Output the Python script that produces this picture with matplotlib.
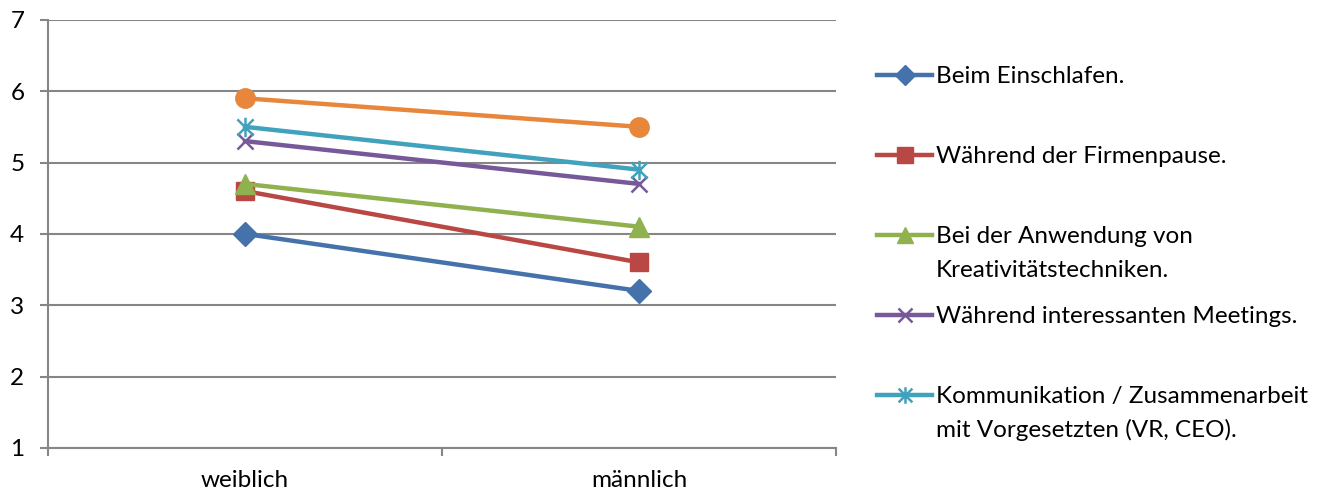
import matplotlib.pyplot as plt
from matplotlib.lines import Line2D
from matplotlib.path import Path

plt.rcParams['font.family'] = ['Lato', 'DejaVu Sans']

categories = ['weiblich', 'männlich']
einschlafen = [4.0, 3.2]
firmenpause = [4.6, 3.6]
kreativ = [4.7, 4.1]
meetings = [5.3, 4.7]
vorgesetzte = [5.5, 4.9]
sonstige = [5.9, 5.5]

labels = ['Beim Einschlafen.',
          'Während der Firmenpause.',
          'Bei der Anwendung von\nKreativitätstechniken.',
          'Während interessanten Meetings.',
          'Kommunikation / Zusammenarbeit\nmit Vorgesetzten (VR, CEO).']

# star marker: an x with a vertical stroke through it
star = Path([(-1, -1), (1, 1), (-1, 1), (1, -1), (0, -1.2), (0, 1.2)],
            [Path.MOVETO, Path.LINETO, Path.MOVETO, Path.LINETO, Path.MOVETO, Path.LINETO])

styles = [
    (einschlafen, '#4672AB', 'D', 12, 1),
    (firmenpause, '#B94845', 's', 13, 1),
    (kreativ, '#8FB24F', '^', 14, 1),
    (meetings, '#77599A', 'x', 12, 1.8),
    (vorgesetzte, '#40A2BD', star, 14, 1.8),
]

fig = plt.figure(figsize=(13.32, 4.95), dpi=100)
ax = fig.add_axes([0.036, 0.095, 0.592, 0.865])
x = range(len(categories))

ax.plot(x, sonstige, color='#E8873B', lw=3.2, marker='o', ms=14, zorder=3)
for vals, col, mk, ms, mew in styles:
    ax.plot(x, vals, color=col, lw=3.2, marker=mk, ms=ms, mew=mew, zorder=3)

ax.set_xlim(-0.5, 1.5)
ax.set_ylim(1, 7)
ax.set_yticks(range(1, 8))
ax.grid(axis='y', color='#868686', lw=1.5)
ax.set_xticks(list(x))
ax.set_xticklabels(categories)
ax.set_xticks([-0.5, 0.5, 1.5], minor=True)
ax.tick_params(axis='x', which='major', length=0, pad=16, labelsize=17.5)
ax.tick_params(axis='x', which='minor', length=6, width=1.5, color='#868686')
ax.tick_params(axis='y', length=6, width=1.5, color='#868686', pad=11, labelsize=17.5)
for s in ['top', 'right']:
    ax.spines[s].set_visible(False)
for s in ['left', 'bottom']:
    ax.spines[s].set_color('#868686')
    ax.spines[s].set_linewidth(1.5)
ax.set_axisbelow(True)

# legend drawn by hand so the entries sit at Excel-like spacing
W, H = 1332, 495
for i, (lab, (vals, col, mk, ms, mew)) in enumerate(zip(labels, styles)):
    yp = 75 + 80 * i
    fig.add_artist(Line2D([877 / W, 932 / W], [1 - yp / H, 1 - yp / H], color=col, lw=3.2,
                          transform=fig.transFigure))
    fig.add_artist(Line2D([904.5 / W], [1 - yp / H], color=col, marker=mk, ms=ms * 0.85,
                          mew=mew, transform=fig.transFigure))
    for j, part in enumerate(lab.split('\n')):
        fig.text(936 / W, 1 - (yp + 8 + 34 * j) / H, part, fontsize=17.5,
                 va='baseline', ha='left')

fig.savefig('out.png', dpi=100)
